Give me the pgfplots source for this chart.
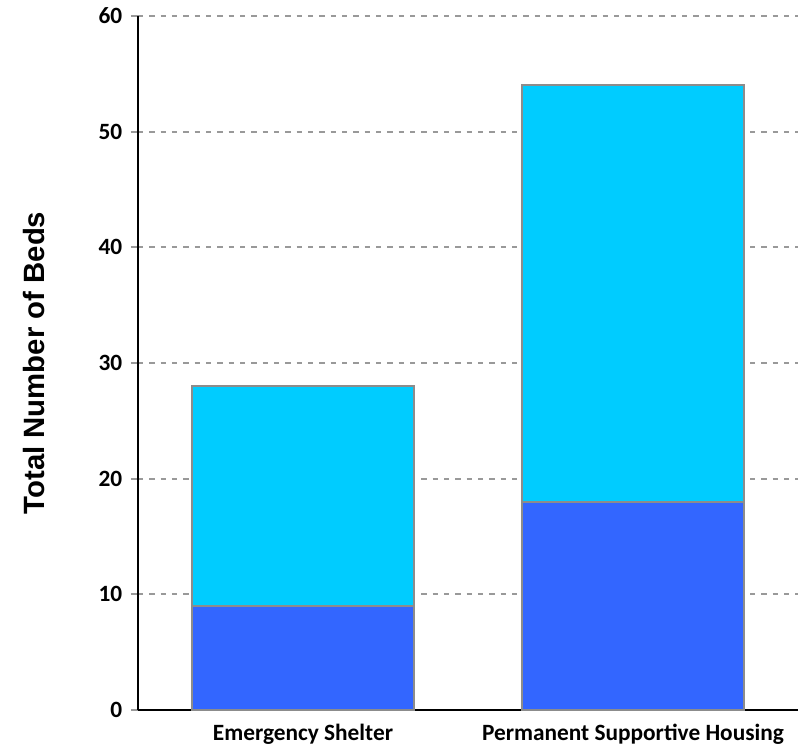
\documentclass[border=0pt]{standalone}
\usepackage{fontspec}
\setmainfont{Carlito}
\newfontfamily\arialfont{Liberation Sans}
\usepackage{pgfplots}
\pgfplotsset{compat=1.18}
\definecolor{lowblue}{HTML}{3366FF}
\definecolor{topcyan}{HTML}{00CCFF}
\definecolor{gridgray}{HTML}{999999}
\definecolor{barline}{HTML}{8C8C8C}

\begin{document}
\begin{tikzpicture}
  % page = 798 x 746 px at 0.75pt/px
  \path[use as bounding box] (-103.5pt,-27pt) rectangle (495pt,532.5pt);
  \begin{axis}[
      at={(0pt,0pt)}, anchor=south west,
      scale only axis,
      width=495pt, height=520.5pt,
      ybar stacked,
      bar width=0.67,
      xmin=-0.5, xmax=1.5,
      ymin=0, ymax=60,
      xtick={0,1},
      xticklabels={Emergency Shelter, Permanent Supportive Housing},
      ytick={0,10,...,60},
      axis x line*=bottom,
      axis y line*=left,
      axis line style={-, black, line width=1.5pt},
      x axis line style={-},
      y axis line style={-},
      tick align=outside,
      major tick length=5.25pt,
      x tick style={draw=none},
      y tick style={gridgray, line width=1.5pt},
      ymajorgrids,
      grid style={gridgray, line width=1.4pt, dash pattern=on 4pt off 4.5pt},
      ticklabel style={font=\bfseries\fontsize{17.5}{20}\selectfont},
      yticklabel style={xshift=-3pt},
      xticklabel style={yshift=-1.5pt},
      /pgf/number format/assume math mode=true,
      ylabel={Total Number of Beds},
      every axis y label/.style={at={([xshift=-78pt]axis description cs:0,0.5)},
        rotate=90, anchor=center,
        font=\arialfont\bfseries\fontsize{22}{26}\selectfont},
      clip=false,
    ]
    \addplot[fill=lowblue, draw=barline, line width=1.5pt] coordinates {(0,9) (1,18)};
    \addplot[fill=topcyan, draw=barline, line width=1.5pt] coordinates {(0,19) (1,36)};
  \end{axis}
\end{tikzpicture}
\end{document}
